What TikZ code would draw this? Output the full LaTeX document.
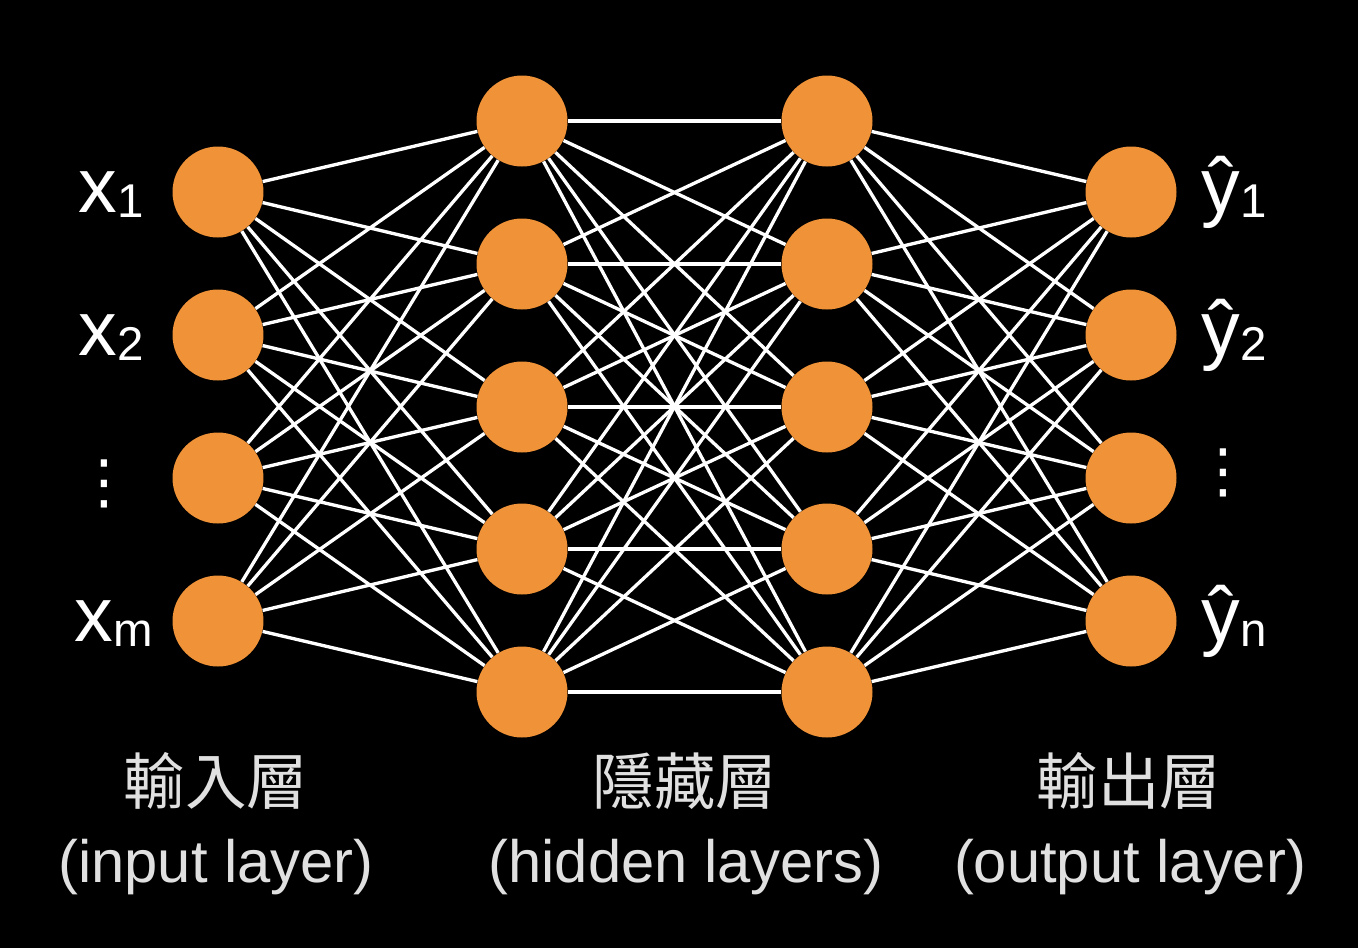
\documentclass[tikz,border=0pt]{standalone}
\usepackage{fontspec}
\setmainfont{Liberation Sans}
\newfontfamily\cjk{Noto Sans CJK TC}
\newfontfamily\symfont{DejaVu Sans}
\usetikzlibrary{positioning}
\definecolor{neuron}{RGB}{239,146,56}
\definecolor{labelgray}{RGB}{224,224,224}
\newcommand{\idx}[1]{\raisebox{-0.07em}{\fontsize{27}{27}\selectfont #1}}

\begin{document}
\begin{tikzpicture}[
  x=0.02cm, y=-0.02cm,
  unit/.style={circle, fill=neuron, minimum size=1.82cm, inner sep=0pt},
  link/.style={white, line width=1.9pt},
  varlabel/.style={text=white, font=\fontsize{44}{44}\selectfont, anchor=base west, inner sep=0pt},
  more/.style={text=white, font=\symfont\fontsize{34}{34}\selectfont, inner sep=0pt},
  layername/.style={text=labelgray, font=\cjk\fontsize{35}{35}\selectfont},
  layertext/.style={text=labelgray, font=\fontsize{34}{34}\selectfont}
]
\fill[black] (0,0) rectangle (1358,948);
\useasboundingbox (0,0) rectangle (1358,948);

% input layer
\node[unit] (i1) at (218,192) {};
\node[unit] (i2) at (218,335) {};
\node[unit] (i3) at (218,478) {};
\node[unit] (i4) at (218,621) {};

% hidden layers
\foreach \k/\y in {1/121,2/264,3/407,4/549,5/692} {
  \node[unit] (a\k) at (522,\y) {};
  \node[unit] (b\k) at (827,\y) {};
}

% output layer
\node[unit] (o1) at (1131,192) {};
\node[unit] (o2) at (1131,335) {};
\node[unit] (o3) at (1131,478) {};
\node[unit] (o4) at (1131,621) {};

% full connections
\foreach \p in {1,...,4}
  \foreach \q in {1,...,5} {
    \draw[link] (i\p) -- (a\q);
    \draw[link] (b\q) -- (o\p);
  }
\foreach \p in {1,...,5}
  \foreach \q in {1,...,5}
    \draw[link] (a\p) -- (b\q);

% variable labels
\node[varlabel] (x1) at (78,212) {x\idx{1}};
\node[varlabel] (x2) at (78,355) {x\idx{2}};
\node[more] (xdots) at (104,484) {⋮};
\node[varlabel] (xm) at (74,641) {x\idx{m}};

\node[varlabel] (y1) at (1201,212) {ŷ\idx{1}};
\node[varlabel] (y2) at (1201,355) {ŷ\idx{2}};
\node[more] (ydots) at (1223,473) {⋮};
\node[varlabel] (yn) at (1201,641) {ŷ\idx{n}};

% layer names
\node[layername] (inname) at (216,781) {輸入層};
\node[layertext] (intext) at (216,867) {(input layer)};
\node[layername] (hidname) at (685,781) {隱藏層};
\node[layertext] (hidtext) at (686,867) {(hidden layers)};
\node[layername] (outname) at (1129,781) {輸出層};
\node[layertext] (outtext) at (1130,867) {(output layer)};
\end{tikzpicture}
\end{document}
